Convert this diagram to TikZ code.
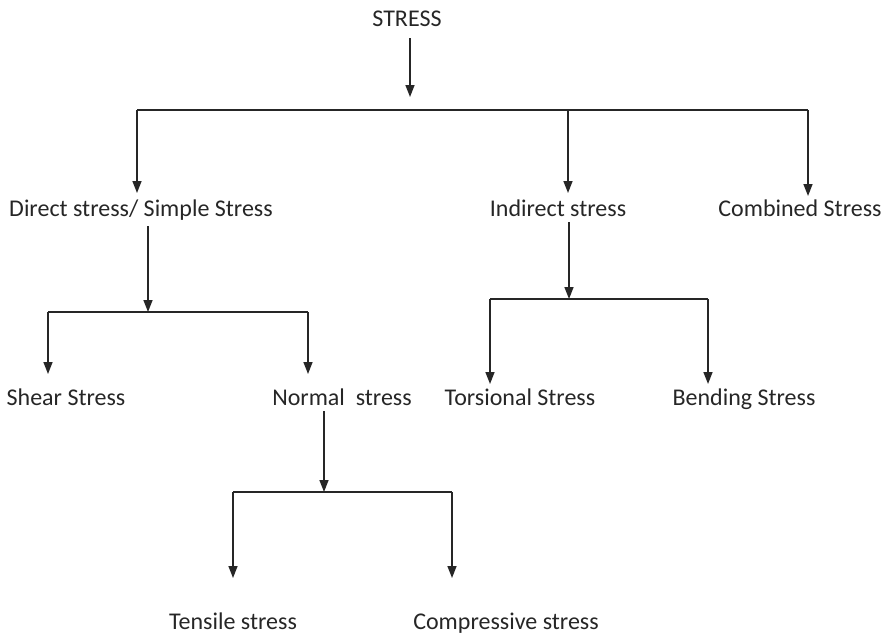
\documentclass[tikz,border=0pt]{standalone}
\usepackage{fontspec}
\setmainfont{Carlito}
\usetikzlibrary{arrows.meta}
\begin{document}
\begin{tikzpicture}[x=1pt,y=-1pt,
  lbl/.style={font=\fontsize{24}{28}\selectfont, text=black!85, inner sep=0pt, anchor=base},
  ln/.style={line width=1.6pt, draw=black!85},
  arr/.style={ln, -{Triangle[width=9pt,length=12pt]}}]
\useasboundingbox (0,0) rectangle (887,638);
% labels
\node[lbl] (stress) at (407,26) {STRESS};
\node[lbl] (direct) at (141,216) {Direct stress/ Simple Stress};
\node[lbl] (indirect) at (558,216) {Indirect stress};
\node[lbl] (combined) at (800,216) {Combined Stress};
\node[lbl] (shear) at (66,405) {Shear Stress};
\node[lbl] (normal) at (342,405) {Normal\ \ stress};
\node[lbl] (torsional) at (520,405) {Torsional Stress};
\node[lbl] (bending) at (744,405) {Bending Stress};
\node[lbl] (tensile) at (233,629) {Tensile stress};
\node[lbl] (compressive) at (506,629) {Compressive stress};
% junction coordinates
\coordinate (t0) at (410,97);
\coordinate (b1l) at (137,110);
\coordinate (b1m) at (568,110);
\coordinate (b1r) at (808,110);
\coordinate (a1) at (137,193);
\coordinate (a2) at (568,193);
\coordinate (a3) at (808,196);
\coordinate (d0) at (148,312);
\coordinate (d1) at (48,312);
\coordinate (d2) at (308,312);
\coordinate (da) at (48,374);
\coordinate (db) at (308,374);
\coordinate (i0) at (569,299);
\coordinate (i1) at (490,299);
\coordinate (i2) at (708,299);
\coordinate (ia) at (490,384);
\coordinate (ib) at (708,384);
\coordinate (n0) at (324,492);
\coordinate (n1) at (233,492);
\coordinate (n2) at (452,492);
\coordinate (na) at (233,578);
\coordinate (nb) at (452,578);
% connectors
\draw[arr] (stress.south -| t0) ++(0,12) -- (t0);
\draw[ln] (b1l) -- (b1r);
\draw[arr] (b1l) -- (a1);
\draw[arr] (b1m) -- (a2);
\draw[arr] (b1r) -- (a3);
\draw[arr] (direct.south -| d0) ++(0,6) -- (d0);
\draw[ln] (d1) -- (d2);
\draw[arr] (d1) -- (da);
\draw[arr] (d2) -- (db);
\draw[arr] (indirect.south -| i0) ++(0,6) -- (i0);
\draw[ln] (i1) -- (i2);
\draw[arr] (i1) -- (ia);
\draw[arr] (i2) -- (ib);
\draw[arr] (normal.south -| n0) ++(0,6) -- (n0);
\draw[ln] (n1) -- (n2);
\draw[arr] (n1) -- (na);
\draw[arr] (n2) -- (nb);
\end{tikzpicture}
\end{document}
